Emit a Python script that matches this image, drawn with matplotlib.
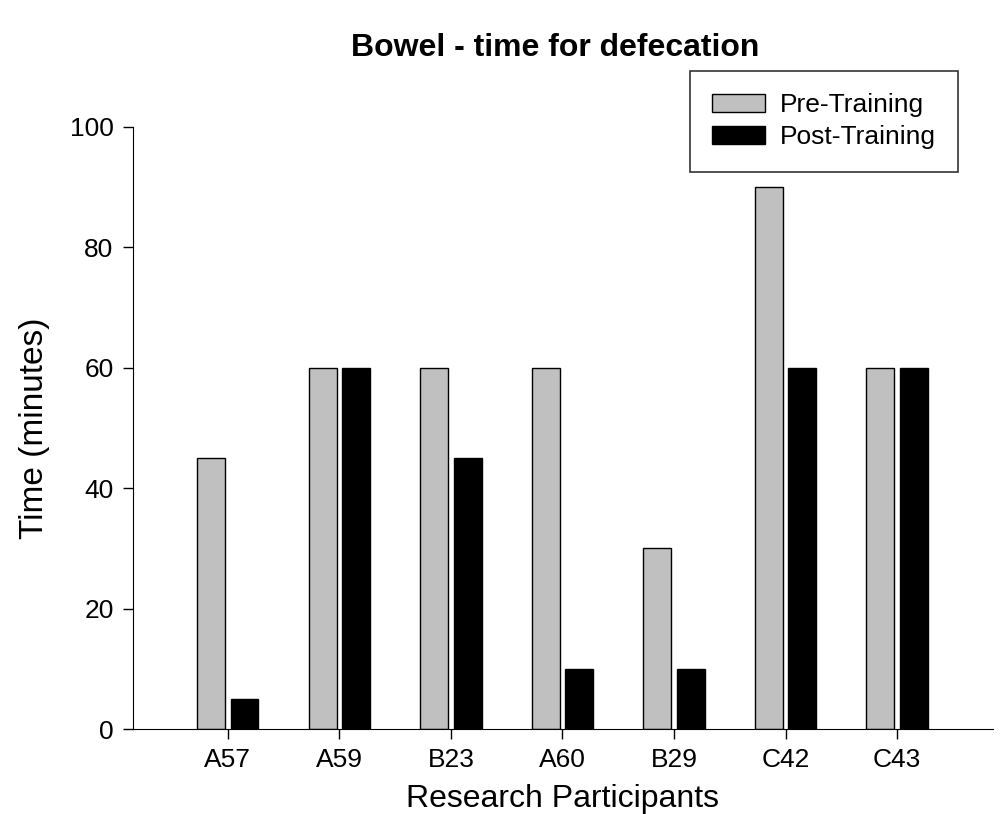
import numpy as np
import matplotlib.pyplot as plt

plt.rcParams['font.family'] = ['Liberation Sans', 'DejaVu Sans']

participants = ['A57', 'A59', 'B23', 'A60', 'B29', 'C42', 'C43']
pre_training = [45, 60, 60, 60, 30, 90, 60]
post_training = [5, 60, 45, 10, 10, 60, 60]

x = np.arange(len(participants))
w = 0.25

fig = plt.figure(figsize=(10, 8.14), dpi=100)
ax = fig.add_axes([0.133, 0.1044, 0.86, 0.7396])

ax.bar(x - 0.15, pre_training, w, color='#c0c0c0', edgecolor='black', linewidth=1, label='Pre-Training')
ax.bar(x + 0.15, post_training, w, color='black', edgecolor='black', linewidth=1, label='Post-Training')

ax.set_xlim(-0.85, 6.86)
ax.set_ylim(0, 100)
ax.set_yticks([0, 20, 40, 60, 80, 100])
ax.set_xticks(x)
ax.set_xticklabels(participants)
ax.tick_params(axis='both', labelsize=19, length=7, width=1, direction='out', pad=7)
ax.spines['top'].set_visible(False)
ax.spines['right'].set_visible(False)

ax.set_xlabel('Research Participants', fontsize=23, labelpad=8)
ax.set_ylabel('Time (minutes)', fontsize=24, labelpad=14)
fig.suptitle('Bowel - time for defecation', fontsize=23, fontweight='bold', x=0.555, y=0.96)

leg = ax.legend(loc='upper right', bbox_to_anchor=(0.958, 0.913), bbox_transform=fig.transFigure,
                fontsize=19, frameon=True, fancybox=False, edgecolor='black',
                handlelength=2.0, handleheight=0.7, handletextpad=0.55,
                labelspacing=0.3, borderpad=0.85, borderaxespad=0)
leg.get_frame().set_linewidth(1.2)

fig.savefig('out.png', dpi=100)
